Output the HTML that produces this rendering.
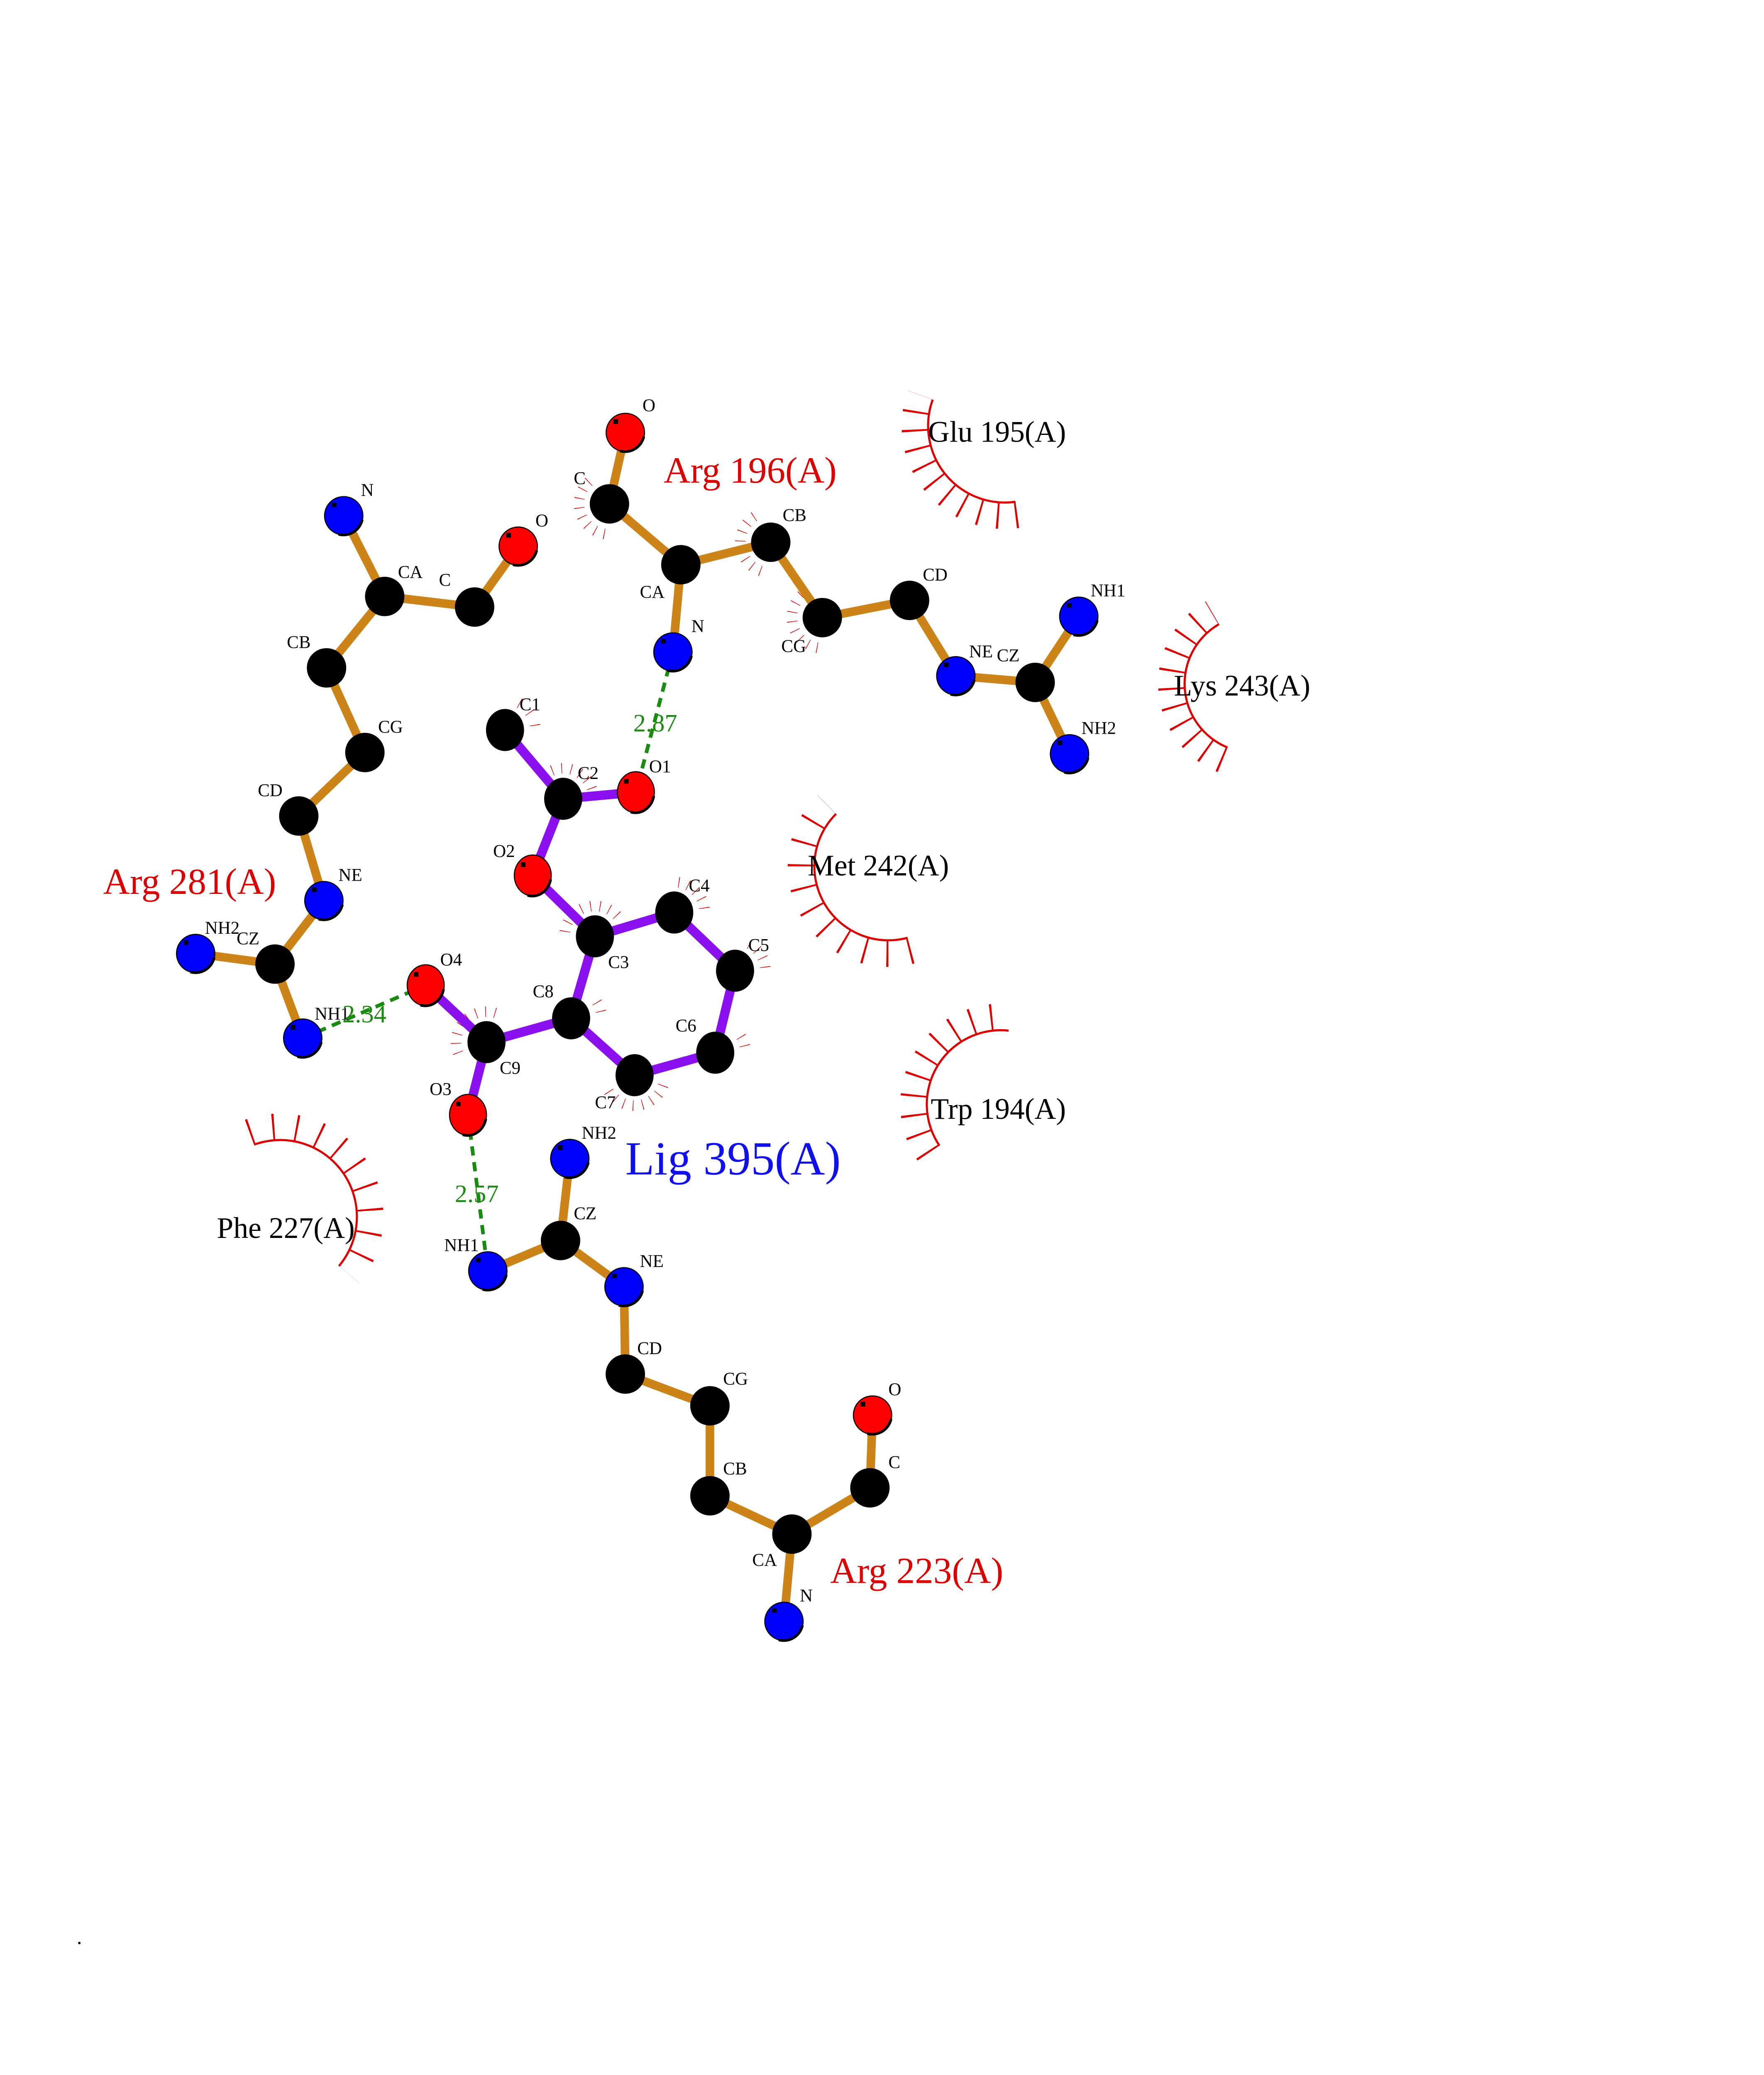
<!DOCTYPE html>
<html><head><meta charset="utf-8"><style>
html,body{margin:0;padding:0;background:#fff;width:100%;height:100%;overflow:hidden;}
svg{display:block;height:100vh;width:calc(100vh * 0.772727);}
text{font-family:"Liberation Serif",serif;}
</style></head><body>
<svg viewBox="0 0 1213 1569" preserveAspectRatio="none" xmlns="http://www.w3.org/2000/svg" xmlns:xlink="http://www.w3.org/1999/xlink">
<defs>
<g id="ab"><circle cx="0" cy="0" r="14.5" fill="#000" stroke="#000" stroke-width="0.8"/></g>
<g id="an"><circle cx="0" cy="0" r="14.5" fill="#0000ff" stroke="#000" stroke-width="0.8"/><path d="M-4,14 A14.5,14.5 0 0 0 14,3" stroke="#000" stroke-width="2" fill="none"/><rect x="-9" y="-10" width="3.5" height="3.5" fill="#000"/></g>
<g id="ao"><circle cx="0" cy="0" r="14.5" fill="#ff0000" stroke="#000" stroke-width="0.8"/><path d="M-4,14 A14.5,14.5 0 0 0 14,3" stroke="#000" stroke-width="2" fill="none"/><rect x="-9" y="-10" width="3.5" height="3.5" fill="#000"/></g>
<g id="lb"><ellipse cx="0" cy="0" rx="14" ry="15.5" fill="#000" stroke="#000" stroke-width="0.8"/></g>
<g id="lo"><ellipse cx="0" cy="0" rx="14" ry="15.5" fill="#ff0000" stroke="#000" stroke-width="0.8"/><path d="M-4,15 A14,15.5 0 0 0 13.5,3" stroke="#000" stroke-width="2" fill="none"/><rect x="-9" y="-10" width="3.5" height="3.5" fill="#000"/></g>
</defs>
<rect width="1213" height="1569" fill="#fff"/>
<g stroke="#d00" fill="none">
<path stroke-width="1.6" d="M768.1,379.4 A58,58 0 0 1 705.5,302.2"/>
<path stroke-width="20" stroke-dasharray="1.5 12.5" d="M769.5,389.3 A68,68 0 0 1 696.1,298.7"/>
<path stroke-width="1.6" d="M928.5,565.2 A52,52 0 0 1 922,472"/>
<path stroke-width="20" stroke-dasharray="1.5 12.3" d="M924.8,574.5 A62,62 0 0 1 917,463.3"/>
<path stroke-width="1.6" d="M686.5,709.1 A56,56 0 0 1 632.4,615.4"/>
<path stroke-width="20" stroke-dasharray="1.5 15.8" d="M689.1,718.8 A66,66 0 0 1 625.3,608.3"/>
<path stroke-width="1.6" d="M710.6,866.3 A56,56 0 0 1 762.9,779.3"/>
<path stroke-width="20" stroke-dasharray="1.5 13.5" d="M702.3,871.9 A66,66 0 0 1 763.9,769.3"/>
<path stroke-width="1.6" d="M192.2,865.5 A58,58 0 0 1 256.4,957.3"/>
<path stroke-width="20" stroke-dasharray="1.5 16.3" d="M188.7,856.1 A68,68 0 0 1 264.1,963.7"/>
</g>
<g stroke="#d00" stroke-width="8" fill="none" stroke-dasharray="1.2 17 1.2 17 1.2 17 1.2 17 1.2 17 1.2 17 1.2 17 1.2 400">
<circle cx="461" cy="381" r="23" pathLength="360" stroke-dashoffset="-100"/>
<circle cx="583" cy="410" r="23" pathLength="360" stroke-dashoffset="-110"/>
<circle cx="622" cy="467" r="23" pathLength="360" stroke-dashoffset="-100"/>
<circle cx="382" cy="552" r="23" pathLength="360" stroke-dashoffset="-300" stroke-dasharray="1.2 25 1.2 25 1.2 400"/>
<circle cx="426" cy="604" r="23" pathLength="360" stroke-dashoffset="-250"/>
<circle cx="450" cy="708" r="23" pathLength="360" stroke-dashoffset="-190"/>
<circle cx="510" cy="690" r="23" pathLength="360" stroke-dashoffset="-280"/>
<circle cx="556" cy="734" r="23" pathLength="360" stroke-dashoffset="-300"/>
<circle cx="541" cy="796" r="23" pathLength="360" stroke-dashoffset="-330"/>
<circle cx="480" cy="813" r="23" pathLength="360" stroke-dashoffset="-20"/>
<circle cx="432" cy="770" r="23" pathLength="360" stroke-dashoffset="-330"/>
<circle cx="368" cy="788" r="23" pathLength="360" stroke-dashoffset="-160"/>
</g>
<g stroke="#1a8a10" stroke-width="2.8" stroke-dasharray="7,5" fill="none">
<line x1="509" y1="493" x2="481" y2="599"/>
<line x1="229" y1="785" x2="322" y2="745"/>
<line x1="354" y1="843" x2="369" y2="961"/>
</g>
<g stroke="#cc8418" stroke-width="6.5" stroke-linecap="round" fill="none">
<polyline points="473,327 461,381 515,427 583,410 622,467 688,454 723,511 783,516 816,466"/>
<line x1="783" y1="516" x2="809" y2="570"/>
<line x1="515" y1="427" x2="509" y2="493"/>
<polyline points="260,390 291,451 359,459 392,413"/>
<polyline points="291,451 247,505 276,569 226,617 245,681 208,729 148,721"/>
<line x1="208" y1="729" x2="229" y2="785"/>
<polyline points="431,876 424,938 369,961"/>
<polyline points="424,938 472,973 473,1039 537,1063 537,1131 599,1160 658,1125 660,1070"/>
<line x1="599" y1="1160" x2="593" y2="1226"/>
</g>
<g stroke="#8a10f0" stroke-width="7" stroke-linecap="round" fill="none">
<polyline points="382,552 426,604 481,599"/>
<polyline points="426,604 403,662 450,708 510,690 556,734 541,796 480,813 432,770 450,708"/>
<polyline points="432,770 368,788 322,745"/>
<line x1="368" y1="788" x2="354" y2="843"/>
</g>
<use xlink:href="#ao" href="#ao" x="473" y="327"/>
<use xlink:href="#ab" href="#ab" x="461" y="381"/>
<use xlink:href="#ab" href="#ab" x="515" y="427"/>
<use xlink:href="#ab" href="#ab" x="583" y="410"/>
<use xlink:href="#ab" href="#ab" x="622" y="467"/>
<use xlink:href="#ab" href="#ab" x="688" y="454"/>
<use xlink:href="#an" href="#an" x="723" y="511"/>
<use xlink:href="#ab" href="#ab" x="783" y="516"/>
<use xlink:href="#an" href="#an" x="816" y="466"/>
<use xlink:href="#an" href="#an" x="809" y="570"/>
<use xlink:href="#an" href="#an" x="509" y="493"/>
<use xlink:href="#an" href="#an" x="260" y="390"/>
<use xlink:href="#ab" href="#ab" x="291" y="451"/>
<use xlink:href="#ab" href="#ab" x="359" y="459"/>
<use xlink:href="#ao" href="#ao" x="392" y="413"/>
<use xlink:href="#ab" href="#ab" x="247" y="505"/>
<use xlink:href="#ab" href="#ab" x="276" y="569"/>
<use xlink:href="#ab" href="#ab" x="226" y="617"/>
<use xlink:href="#an" href="#an" x="245" y="681"/>
<use xlink:href="#ab" href="#ab" x="208" y="729"/>
<use xlink:href="#an" href="#an" x="148" y="721"/>
<use xlink:href="#an" href="#an" x="229" y="785"/>
<use xlink:href="#lb" href="#lb" x="382" y="552"/>
<use xlink:href="#lb" href="#lb" x="426" y="604"/>
<use xlink:href="#lo" href="#lo" x="481" y="599"/>
<use xlink:href="#lo" href="#lo" x="403" y="662"/>
<use xlink:href="#lb" href="#lb" x="450" y="708"/>
<use xlink:href="#lb" href="#lb" x="510" y="690"/>
<use xlink:href="#lb" href="#lb" x="556" y="734"/>
<use xlink:href="#lb" href="#lb" x="541" y="796"/>
<use xlink:href="#lb" href="#lb" x="480" y="813"/>
<use xlink:href="#lb" href="#lb" x="432" y="770"/>
<use xlink:href="#lb" href="#lb" x="368" y="788"/>
<use xlink:href="#lo" href="#lo" x="322" y="745"/>
<use xlink:href="#lo" href="#lo" x="354" y="843"/>
<use xlink:href="#an" href="#an" x="431" y="876"/>
<use xlink:href="#ab" href="#ab" x="424" y="938"/>
<use xlink:href="#an" href="#an" x="369" y="961"/>
<use xlink:href="#an" href="#an" x="472" y="973"/>
<use xlink:href="#ab" href="#ab" x="473" y="1039"/>
<use xlink:href="#ab" href="#ab" x="537" y="1063"/>
<use xlink:href="#ab" href="#ab" x="537" y="1131"/>
<use xlink:href="#ab" href="#ab" x="599" y="1160"/>
<use xlink:href="#ab" href="#ab" x="658" y="1125"/>
<use xlink:href="#ao" href="#ao" x="660" y="1070"/>
<use xlink:href="#an" href="#an" x="593" y="1226"/>
<g font-size="13.5" fill="#000">
<text x="486" y="311">O</text><text x="434" y="366">C</text><text x="484" y="452">CA</text>
<text x="592" y="394">CB</text><text x="591" y="493">CG</text><text x="698" y="439">CD</text>
<text x="733" y="497">NE</text><text x="754" y="500">CZ</text><text x="825" y="451">NH1</text>
<text x="818" y="555">NH2</text><text x="523" y="478">N</text>
<text x="273" y="375">N</text><text x="301" y="437">CA</text><text x="332" y="443">C</text>
<text x="405" y="398">O</text><text x="217" y="490">CB</text><text x="286" y="554">CG</text>
<text x="195" y="602">CD</text><text x="256" y="666">NE</text><text x="179" y="714">CZ</text>
<text x="155" y="706">NH2</text><text x="238" y="771">NH1</text>
<text x="393" y="537">C1</text><text x="437" y="589">C2</text><text x="491" y="584">O1</text>
<text x="373" y="648">O2</text><text x="460" y="732">C3</text><text x="521" y="674">C4</text>
<text x="566" y="719">C5</text><text x="511" y="780">C6</text><text x="450" y="838">C7</text>
<text x="403" y="754">C8</text><text x="378" y="812">C9</text><text x="333" y="730">O4</text>
<text x="325" y="828">O3</text>
<text x="440" y="861">NH2</text><text x="434" y="922">CZ</text><text x="336" y="946">NH1</text>
<text x="484" y="958">NE</text><text x="482" y="1024">CD</text><text x="547" y="1047">CG</text>
<text x="547" y="1115">CB</text><text x="569" y="1184">CA</text><text x="672" y="1110">C</text>
<text x="672" y="1055">O</text><text x="605" y="1211">N</text>
</g>
<g font-size="19" fill="#1a8a10">
<text x="479" y="553">2.87</text><text x="259" y="773">2.34</text><text x="344" y="909">2.57</text>
</g>
<g font-size="28" fill="#d00">
<text x="502" y="365">Arg 196(A)</text>
<text x="78" y="676">Arg 281(A)</text>
<text x="628" y="1197">Arg 223(A)</text>
</g>
<text x="473" y="888" font-size="36" fill="#1010ee">Lig 395(A)</text>
<g font-size="22.5" fill="#000">
<text x="702" y="334">Glu 195(A)</text>
<text x="888" y="526">Lys 243(A)</text>
<text x="611" y="662">Met 242(A)</text>
<text x="704" y="846">Trp 194(A)</text>
<text x="164" y="936">Phe 227(A)</text>
</g>
<text x="58" y="1470" font-size="16">.</text>
</svg>
</body></html>
